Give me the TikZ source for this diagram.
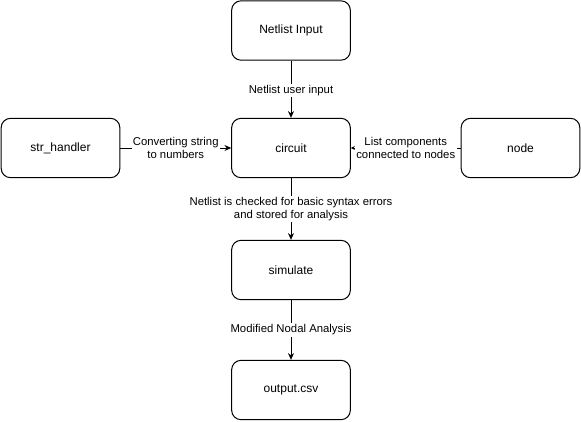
\documentclass[tikz,border=0pt]{standalone}
\usepackage{fontspec}
\setmainfont{Liberation Sans}
\usetikzlibrary{arrows.meta}
\begin{document}
\begin{tikzpicture}[
x=0.75pt, y=-0.75pt,
block/.style={draw, line width=0.75pt, rounded corners=7pt, minimum width=89pt, minimum height=44.5pt, font=\fontsize{9}{11}\selectfont},
flow/.style={draw, line width=0.75pt, -{Stealth[length=5pt, width=4.5pt]}},
lbl/.style={fill=white, inner sep=1pt, align=center, font=\fontsize{8.5}{10}\selectfont}
]
\useasboundingbox (0,0) rectangle (581,421);
\node[block] (input) at (291,30.5) {Netlist Input};
\node[block] (circuit) at (291,148) {circuit};
\node[block] (strh) at (60.5,148) {str\_handler};
\node[block] (nodebox) at (520.5,148) {node};
\node[block] (simulate) at (291,270) {simulate};
\node[block] (output) at (291,390) {output.csv};

\draw[flow] (input) -- node[lbl, yshift=-1pt]{Netlist user input} (circuit);
\draw[flow] (strh) -- node[lbl]{Converting string\\to numbers} (circuit);
\draw[draw, line width=0.75pt, -{Stealth[length=3pt, width=3pt]}] (nodebox) -- node[lbl]{List components\\connected to nodes} (circuit);
\draw[flow] (circuit) -- node[lbl]{Netlist is checked for basic syntax errors\\and stored for analysis} (simulate);
\draw[flow] (simulate) -- node[lbl]{Modified Nodal Analysis} (output);

\end{tikzpicture}
\end{document}
